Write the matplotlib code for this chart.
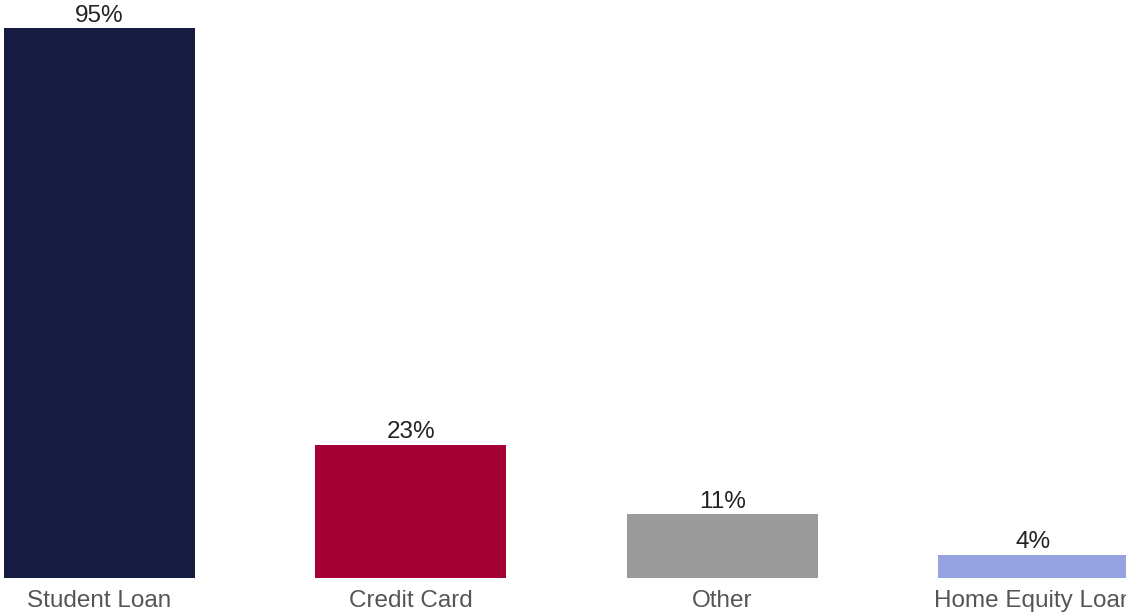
import matplotlib
matplotlib.use("Agg")
import matplotlib.pyplot as plt

categories = ["Student Loan", "Credit Card", "Other", "Home Equity Loan"]
values = [95, 23, 11, 4]
colors = ["#161c41", "#a50034", "#9b9b9b", "#95a3e1"]

plt.rcParams['font.family'] = ['Liberation Sans', 'DejaVu Sans']

W, H = 1126, 614
fig = plt.figure(figsize=(W/100, H/100), dpi=100)
ax = fig.add_axes([0, 36/H, 1, 579/H])

x = list(range(len(categories)))
bars = ax.bar(x, values, width=0.614, color=colors)
ax.set_xlim(-99.5/311.3, (W-99.5)/311.3)
ax.set_ylim(0, 100)

for b, v in zip(bars, values):
    ax.annotate(f"{v}%", (b.get_x() + b.get_width()/2, v), xytext=(0, 1),
                textcoords="offset points", ha="center", va="bottom",
                fontsize=17.5, color="#222222")

ax.set_xticks(x)
ax.set_xticklabels(categories, fontsize=17.5, color="#555555")
ax.tick_params(axis='x', length=0, pad=8.5)
ax.set_yticks([])
for s in ax.spines.values():
    s.set_visible(False)

fig.savefig("out.png", dpi=100)
